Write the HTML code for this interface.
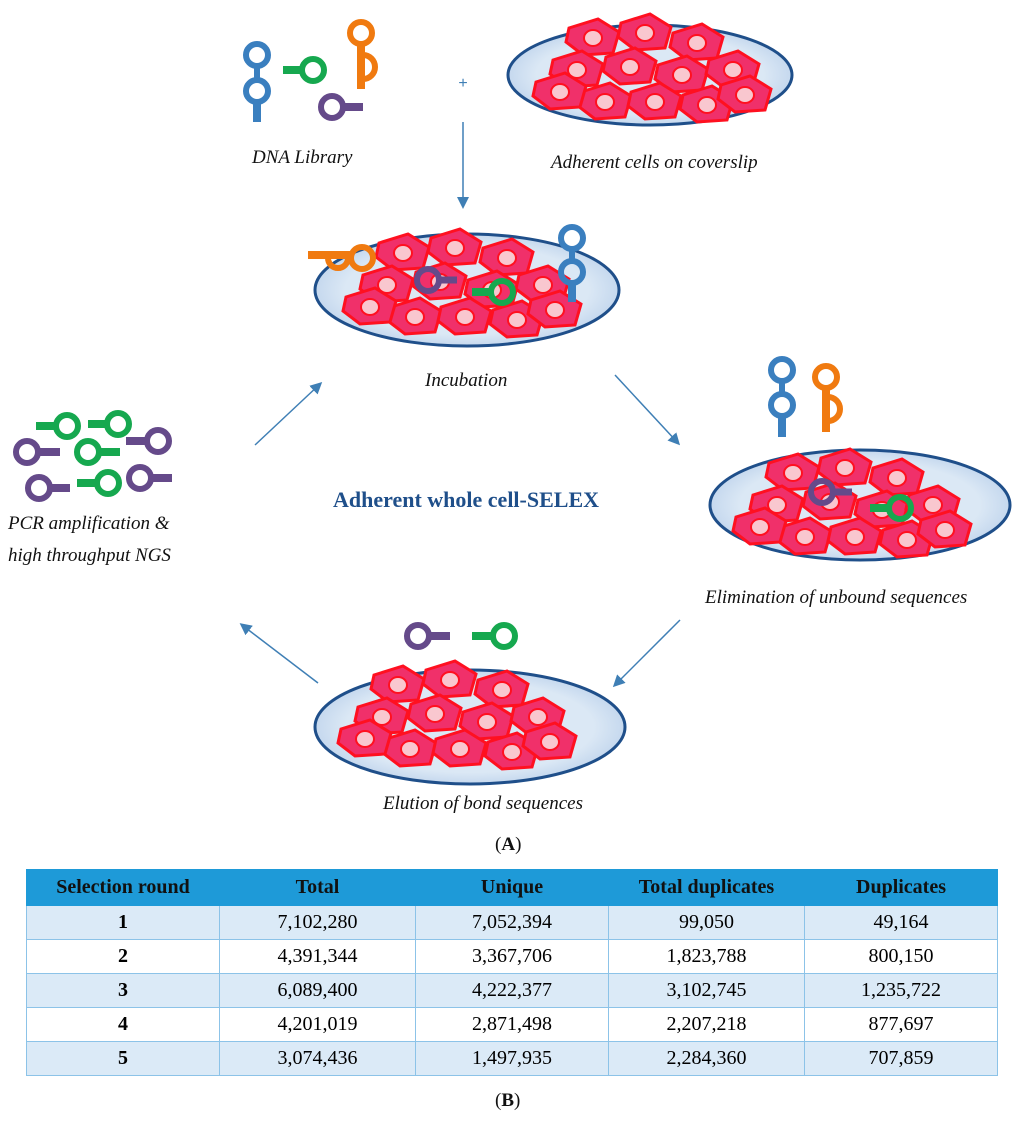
<!DOCTYPE html>
<html><head><meta charset="utf-8"><style>
body{margin:0;background:#fff;width:1024px;height:1128px;overflow:hidden;position:relative;font-family:"Liberation Serif",serif}
svg{position:absolute;left:0;top:0}
table{position:absolute;left:26px;top:869px;width:972px;border-collapse:collapse;font-family:"Liberation Serif",serif;font-size:20px}
td,th{border:1.5px solid #8cc3e8;height:33px;text-align:center;padding:0}
th{background:#1e9ad8;border-color:#1e9ad8;height:35px;font-weight:bold;color:#111}
tr.a td{background:#dbeaf7}
td:first-child{font-weight:bold}
.lab{position:absolute;font-family:"Liberation Serif",serif;font-style:italic;font-size:19px;color:#111;white-space:nowrap}
</style></head><body>
<svg width="1024" height="1128" viewBox="0 0 1024 1128">
<defs>
<radialGradient id="dish" cx="50%" cy="50%" r="50%"><stop offset="80%" stop-color="#dbe8f5"/><stop offset="100%" stop-color="#c5d8ee"/></radialGradient>
<marker id="ah" markerWidth="8" markerHeight="8" refX="6" refY="4" orient="auto"><path d="M0,0 L8,4 L0,8 z" fill="#3f7fb5"/></marker>
<g id="cell"><path d="M-24,-10 L5,-19 L26,-6 L20,15 L-10,17 L-27,4 z" fill="#f0306a" stroke="#ff1020" stroke-width="3"/><ellipse cx="0" cy="0" rx="9" ry="8" fill="#f9c7cf" stroke="#ff1020" stroke-width="2"/></g>
<g id="cells">
<use href="#cell" x="-62" y="-37"/><use href="#cell" x="-10" y="-42"/><use href="#cell" x="42" y="-32"/>
<use href="#cell" x="-78" y="-5"/><use href="#cell" x="-25" y="-8"/><use href="#cell" x="27" y="0"/><use href="#cell" x="78" y="-5"/>
<use href="#cell" x="-50" y="27"/><use href="#cell" x="0" y="27"/><use href="#cell" x="52" y="30"/><use href="#cell" x="90" y="20"/><use href="#cell" x="-95" y="17"/>
</g>
</defs>
<ellipse cx="650" cy="75" rx="142" ry="50" fill="url(#dish)" stroke="#1f4f8a" stroke-width="3"/>
<use href="#cells" x="655" y="75"/>
<ellipse cx="467" cy="290" rx="152" ry="56" fill="url(#dish)" stroke="#1f4f8a" stroke-width="3"/>
<use href="#cells" x="465" y="290"/>
<ellipse cx="860" cy="505" rx="150" ry="55" fill="url(#dish)" stroke="#1f4f8a" stroke-width="3"/>
<use href="#cells" x="855" y="510"/>
<ellipse cx="470" cy="727" rx="155" ry="57" fill="url(#dish)" stroke="#1f4f8a" stroke-width="3"/>
<use href="#cells" x="460" y="722"/>
<g fill="none" stroke-width="6">
<g stroke="#3a7fbf"><circle cx="257" cy="55" r="11"/><circle cx="257" cy="91" r="11"/><line x1="257" y1="66" x2="257" y2="80"/><line x1="257" y1="102" x2="257" y2="122" stroke-width="8"/></g>
<g stroke="#16a84f"><circle cx="313" cy="70" r="11"/><line x1="283" y1="70" x2="302" y2="70" stroke-width="8"/></g>
<g stroke="#f07a10"><circle cx="361" cy="33" r="11"/><line x1="361" y1="44" x2="361" y2="89" stroke-width="8"/><path d="M363,55 A12,12 0 0 1 363,79"/></g>
<g stroke="#654a8a"><circle cx="332" cy="107" r="11"/><line x1="343" y1="107" x2="363" y2="107" stroke-width="8"/></g>
<g stroke="#f07a10"><circle cx="362" cy="258" r="11"/><line x1="308" y1="255" x2="350" y2="255" stroke-width="8"/><path d="M328,258 A10,10 0 0 0 348,258"/></g>
<g stroke="#654a8a"><circle cx="428" cy="280" r="11"/><line x1="439" y1="280" x2="457" y2="280" stroke-width="7"/></g>
<g stroke="#16a84f"><circle cx="502" cy="292" r="11"/><line x1="472" y1="292" x2="491" y2="292" stroke-width="8"/></g>
<g stroke="#3a7fbf"><circle cx="572" cy="238" r="11"/><circle cx="572" cy="272" r="11"/><line x1="572" y1="249" x2="572" y2="261"/><line x1="572" y1="283" x2="572" y2="302" stroke-width="8"/></g>
<g stroke="#3a7fbf"><circle cx="782" cy="370" r="11"/><circle cx="782" cy="405" r="11"/><line x1="782" y1="381" x2="782" y2="394"/><line x1="782" y1="416" x2="782" y2="437" stroke-width="8"/></g>
<g stroke="#f07a10"><circle cx="826" cy="377" r="11"/><line x1="826" y1="388" x2="826" y2="432" stroke-width="8"/><path d="M828,397 A12,12 0 0 1 828,421"/></g>
<g stroke="#654a8a"><circle cx="822" cy="492" r="11"/><line x1="833" y1="492" x2="852" y2="492" stroke-width="7"/></g>
<g stroke="#16a84f"><circle cx="900" cy="508" r="11"/><line x1="870" y1="508" x2="889" y2="508" stroke-width="8"/></g>
<g stroke="#654a8a"><circle cx="418" cy="636" r="11"/><line x1="429" y1="636" x2="450" y2="636" stroke-width="8"/></g>
<g stroke="#16a84f"><circle cx="504" cy="636" r="11"/><line x1="472" y1="636" x2="493" y2="636" stroke-width="8"/></g>
<g stroke="#16a84f"><circle cx="67" cy="426" r="11"/><line x1="36" y1="426" x2="56" y2="426" stroke-width="8"/>
<circle cx="118" cy="424" r="11"/><line x1="88" y1="424" x2="107" y2="424" stroke-width="8"/>
<circle cx="88" cy="452" r="11"/><line x1="99" y1="452" x2="120" y2="452" stroke-width="8"/>
<circle cx="108" cy="483" r="11"/><line x1="77" y1="483" x2="97" y2="483" stroke-width="8"/></g>
<g stroke="#654a8a"><circle cx="27" cy="452" r="11"/><line x1="38" y1="452" x2="60" y2="452" stroke-width="8"/>
<circle cx="158" cy="441" r="11"/><line x1="126" y1="441" x2="147" y2="441" stroke-width="8"/>
<circle cx="39" cy="488" r="11"/><line x1="50" y1="488" x2="70" y2="488" stroke-width="8"/>
<circle cx="140" cy="478" r="11"/><line x1="151" y1="478" x2="172" y2="478" stroke-width="8"/></g>
</g>
<g stroke="#3f7fb5" stroke-width="1.5" marker-end="url(#ah)">
<line x1="463" y1="122" x2="463" y2="206"/>
<line x1="615" y1="375" x2="678" y2="443"/>
<line x1="680" y1="620" x2="615" y2="685"/>
<line x1="318" y1="683" x2="242" y2="625"/>
<line x1="255" y1="445" x2="320" y2="384"/>
</g>
<text x="463" y="88" font-size="16" fill="#3f7fb5" text-anchor="middle" font-family="Liberation Sans">+</text>
<text x="466" y="507" font-size="22" fill="#1f4f8a" text-anchor="middle" font-family="Liberation Serif" font-weight="bold">Adherent whole cell-SELEX</text>
</svg>
<div class="lab" style="left:252px;top:147px">DNA Library</div>
<div class="lab" style="left:551px;top:152px">Adherent cells on coverslip</div>
<div class="lab" style="left:425px;top:370px">Incubation</div>
<div class="lab" style="left:8px;top:513px">PCR amplification &amp;</div>
<div class="lab" style="left:8px;top:545px">high throughput NGS</div>
<div class="lab" style="left:705px;top:587px">Elimination of unbound sequences</div>
<div class="lab" style="left:383px;top:793px">Elution of bond sequences</div>
<div class="lab" style="left:495px;top:834px;font-style:normal">(<b>A</b>)</div>
<table>
<tr><th style="width:192px">Selection round</th><th style="width:195px">Total</th><th style="width:192px">Unique</th><th style="width:195px">Total duplicates</th><th>Duplicates</th></tr>
<tr class="a"><td>1</td><td>7,102,280</td><td>7,052,394</td><td>99,050</td><td>49,164</td></tr>
<tr><td>2</td><td>4,391,344</td><td>3,367,706</td><td>1,823,788</td><td>800,150</td></tr>
<tr class="a"><td>3</td><td>6,089,400</td><td>4,222,377</td><td>3,102,745</td><td>1,235,722</td></tr>
<tr><td>4</td><td>4,201,019</td><td>2,871,498</td><td>2,207,218</td><td>877,697</td></tr>
<tr class="a"><td>5</td><td>3,074,436</td><td>1,497,935</td><td>2,284,360</td><td>707,859</td></tr>
</table>
<div class="lab" style="left:495px;top:1090px;font-style:normal">(<b>B</b>)</div>
</body></html>
